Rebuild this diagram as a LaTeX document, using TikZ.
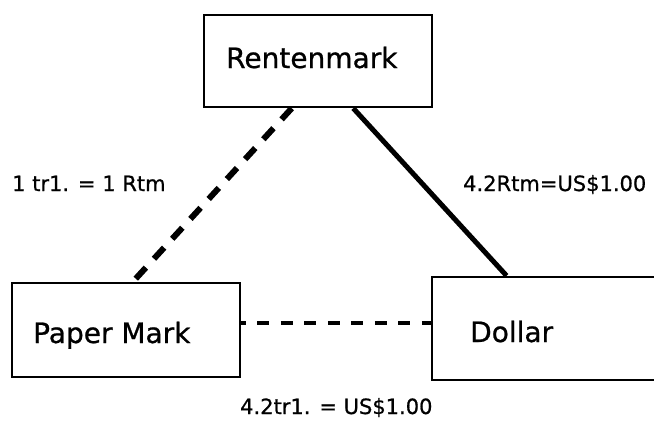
\documentclass[tikz,border=0pt]{standalone}
\usepackage{fontspec}
\setmainfont{DejaVu Sans}[FakeBold=0.8]
\usetikzlibrary{calc}
\tikzset{
  box/.style={draw, line width=2.5pt, minimum width=228pt, inner sep=0pt},
  boxtext/.style={anchor=base west, inner sep=0pt, font=\fontsize{28}{30}\selectfont},
  ratelabel/.style={anchor=base west, inner sep=0pt, font=\fontsize{21}{23}\selectfont},
  dashlink/.style={line width=6pt, dash pattern=on 15pt off 12pt},
  hdashlink/.style={line width=4.5pt, dash pattern=on 12pt off 11.5pt, dash phase=7.5pt},
  solidlink/.style={line width=5pt}
}
\begin{document}
\begin{tikzpicture}[x=1pt, y=-1pt]
\useasboundingbox (0,0) rectangle (654,421);
\clip (0,0) rectangle (654,421);
% boxes
\node[box, minimum height=92pt] (R) at (318,61) {};
\node[box, minimum height=94pt] (P) at (126,330) {};
\node[box, minimum height=103pt] (D) at (546,328.5) {};
% box texts
\node[boxtext] (Rt) at (226,68) {Rentenmark};
\node[boxtext] (Pt) at (33,343) {Paper Mark};
\node[boxtext] (Dt) at (470,342) {Dollar};
% connectors
\draw[dashlink] ($(R.south west)!0.386!(R.south east)$) -- ($(P.north west)!0.53!(P.north east)$);
\draw[solidlink] ($(R.south west)!0.653!(R.south east)$) -- ($(D.north west)!0.329!(D.north east)$);
\coordinate (hy) at (0,323);
\draw[hdashlink] (P.east |- hy) -- (D.west |- hy);
% rate labels
\node[ratelabel] (l1) at (12,191) {1 tr1. = 1 Rtm};
\node[ratelabel] (l2) at (463,191) {4.2Rtm=US\$1.00};
\node[ratelabel] (l3) at (240,414) {4.2tr1. = US\$1.00};
\end{tikzpicture}
\end{document}
